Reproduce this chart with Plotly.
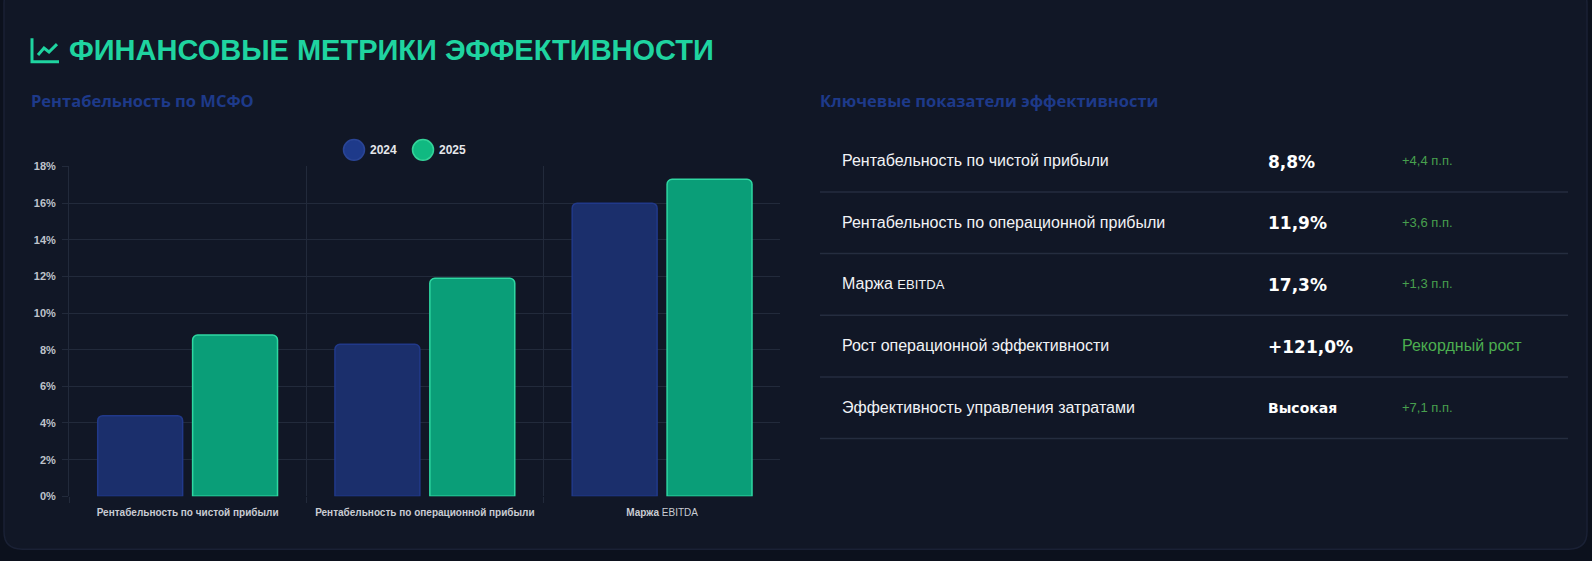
import plotly.graph_objects as go

W, H = 1592, 561

# chart data
categories = [
    "Рентабельность по чистой прибыли",
    "Рентабельность по операционной прибыли",
    "Маржа <span style='font-weight:normal;font-size:10px'>EBITDA</span>",
]
years = ["2024", "2025"]
values_2024 = [4.4, 8.3, 16.0]
values_2025 = [8.8, 11.9, 17.3]

# table data
kpi_labels = [
    "Рентабельность по чистой прибыли",
    "Рентабельность по операционной прибыли",
    "Маржа <span style='font-size:13px'>EBITDA</span>",
    "Рост операционной эффективности",
    "Эффективность управления затратами",
]
kpi_values = ["8,8%", "11,9%", "17,3%", "+121,0%", "Высокая"]
kpi_deltas = ["+4,4 п.п.", "+3,6 п.п.", "+1,3 п.п.", "Рекордный рост", "+7,1 п.п."]

BG = "#0c111d"
CARD = "#111726"
GRID = "#222a3b"
TEAL = "#1fd4a0"
NAVY = "#1e3a8a"
GREEN = "#4caf50"
ARIAL = "Liberation Sans, Arial, sans-serif"
WIDE = "DejaVu Sans, Verdana, sans-serif"
OPEN = "Open Sans, Noto Sans, sans-serif"


def px(x):
    return x / W


def py(y):
    return 1 - y / H


def path(points):
    return "M " + " L ".join(f"{px(x):.5f},{py(y):.5f}" for x, y in points)


fig = go.Figure()
fig.add_trace(
    go.Bar(
        name=years[0],
        x=categories,
        y=values_2024,
        marker=dict(color="#1b2f6c", line=dict(color="#21398a", width=1.5)),
    )
)
fig.add_trace(
    go.Bar(
        name=years[1],
        x=categories,
        y=values_2025,
        marker=dict(color="#0a9e78", line=dict(color="#2fd8a2", width=1.5)),
    )
)

# card background
x0, x1, y0, y1, r = 4, 1587, -20, 555, 18
card = (
    f"M {px(x0 + r)},{py(y0)} L {px(x1 - r)},{py(y0)} "
    f"Q {px(x1)},{py(y0)} {px(x1)},{py(y0 + r)} L {px(x1)},{py(y1 - r)} "
    f"Q {px(x1)},{py(y1)} {px(x1 - r)},{py(y1)} L {px(x0 + r)},{py(y1)} "
    f"Q {px(x0)},{py(y1)} {px(x0)},{py(y1 - r)} L {px(x0)},{py(y0 + r)} "
    f"Q {px(x0)},{py(y0)} {px(x0 + r)},{py(y0)} Z"
)
shapes = [
    dict(type="path", xref="paper", yref="paper", path=card,
         fillcolor=CARD, line=dict(color="#1a2135", width=1.5), layer="below"),
    # title icon
    dict(type="path", xref="paper", yref="paper",
         path=path([(32, 33), (32, 57), (59, 57)]),
         line=dict(color=TEAL, width=3)),
    dict(type="path", xref="paper", yref="paper",
         path=path([(38, 50), (44, 43), (49, 47), (57, 39)]),
         line=dict(color=TEAL, width=3)),
]

annotations = [
    dict(text="<b>ФИНАНСОВЫЕ МЕТРИКИ ЭФФЕКТИВНОСТИ</b>", x=px(67), y=py(45),
         font=dict(family=ARIAL, size=29, color=TEAL)),
    dict(text="<b>Рентабельность по МСФО</b>", x=px(29), y=py(97),
         font=dict(family=OPEN, size=16.5, color=NAVY)),
    dict(text="<b>Ключевые показатели эффективности</b>", x=px(818), y=py(97),
         font=dict(family=OPEN, size=16.5, color=NAVY)),
]

# legend drawn by hand (round swatches)
legend_fill = ["#1e3a8a", "#10b981"]
legend_line = ["#2a4596", "#34d399"]
for i, year in enumerate(years):
    cx, cy, rr = 354 + 69 * i, 147, 10.5
    shapes.append(dict(type="circle", xref="paper", yref="paper",
                       x0=px(cx - rr), x1=px(cx + rr), y0=py(cy + rr), y1=py(cy - rr),
                       fillcolor=legend_fill[i], line=dict(color=legend_line[i], width=1.5)))
    annotations.append(dict(text=f"<b>{year}</b>", x=px(cx + 14), y=py(cy),
                            font=dict(family=ARIAL, size=12, color="#e5e7eb")))

# KPI table
row_h = 63
for i, label in enumerate(kpi_labels):
    yc = 158 + row_h * i
    val = kpi_values[i]
    big_val = any(ch.isdigit() for ch in val)
    delta = kpi_deltas[i]
    small_delta = "п.п." in delta
    annotations += [
        dict(text=label, x=px(840), y=py(yc),
             font=dict(family=ARIAL, size=16, color="#f1f3f6")),
        dict(text=f"<b>{val}</b>", x=px(1266), y=py(yc + 1),
             font=dict(family=WIDE, size=17 if big_val else 14, color="#ffffff")),
        dict(text=delta, x=px(1400), y=py(yc),
             font=dict(family=ARIAL, size=13 if small_delta else 16,
                       color="#48a04e" if small_delta else GREEN)),
    ]
    shapes.append(dict(type="line", xref="paper", yref="paper",
                       x0=px(820), x1=px(1568), y0=py(yc + 32), y1=py(yc + 32),
                       line=dict(color="#252d3f", width=1.5)))

for a in annotations:
    a.update(xref="paper", yref="paper", xanchor="left", yanchor="middle",
             showarrow=False)

fig.update_layout(
    width=W,
    height=H,
    margin=dict(l=0, r=0, t=0, b=0),
    paper_bgcolor=BG,
    plot_bgcolor="rgba(0,0,0,0)",
    showlegend=False,
    barmode="group",
    bargap=0.2,
    bargroupgap=0.105,
    barcornerradius=5,
    shapes=shapes,
    annotations=annotations,
    xaxis=dict(
        domain=[px(69), px(780)],
        range=[-0.5, 2.497],
        tickson="boundaries",
        ticks="outside",
        ticklen=6,
        tickcolor=GRID,
        showgrid=True,
        gridcolor=GRID,
        gridwidth=1,
        showline=False,
        zeroline=False,
        ticklabelstandoff=9,
        tickfont=dict(family=ARIAL, size=10, color="#c9ccd3", weight="bold"),
    ),
    yaxis=dict(
        domain=[py(501), py(164)],
        range=[0, 18],
        dtick=2,
        ticksuffix="%",
        ticks="outside",
        ticklen=6,
        tickcolor=GRID,
        gridcolor=GRID,
        gridwidth=1,
        zeroline=False,
        showline=True,
        linecolor=GRID,
        linewidth=1,
        ticklabelstandoff=4,
        tickfont=dict(family=ARIAL, size=11, color="#bfc3cb", weight="bold"),
    ),
)

fig.write_html(
    "out.html",
    config={"displayModeBar": False},
    post_script="document.body.style.margin='0';"
    "document.body.style.overflow='hidden';"
    f"document.body.style.background='{BG}';",
)
